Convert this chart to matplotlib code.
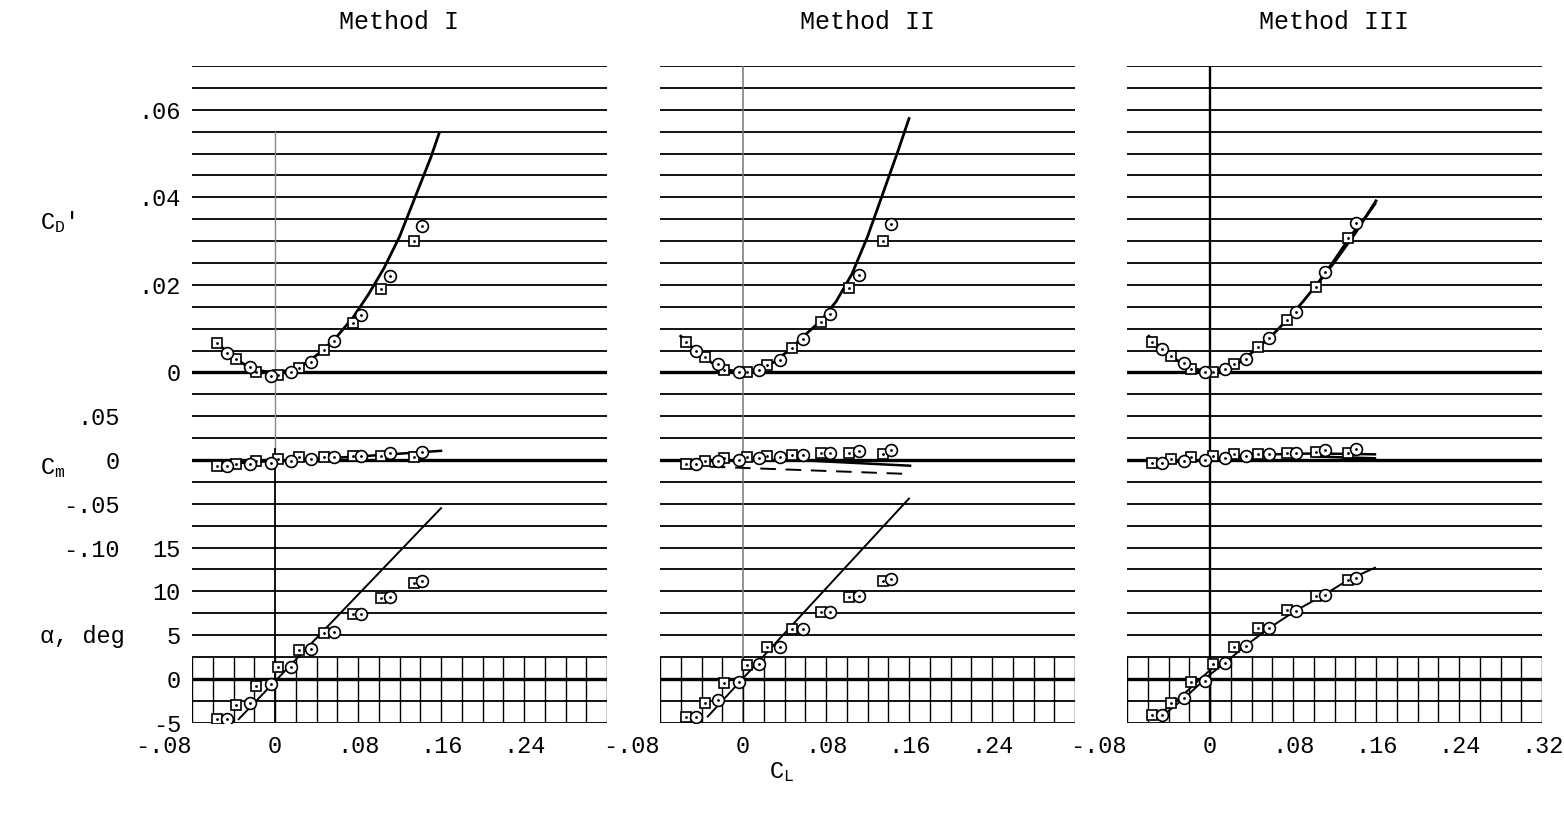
import numpy as np
import matplotlib.pyplot as plt

plt.rcParams['font.family'] = ['Liberation Mono', 'DejaVu Sans']
plt.rcParams['mathtext.fontset'] = 'custom'
plt.rcParams['mathtext.rm'] = 'Liberation Mono'
plt.rcParams['mathtext.it'] = 'Liberation Mono'

# ---- data ----
methods = ['Method I', 'Method II', 'Method III']
cl_ticks = [-0.08, 0, 0.08, 0.16, 0.24, 0.32]
cl_tick_labels = ['-.08', '0', '.08', '.16', '.24', '.32']
cd_ticks = [0, 0.02, 0.04, 0.06]
cd_tick_labels = ['0', '.02', '.04', '.06']
cm_ticks = [0.05, 0, -0.05, -0.10]
cm_tick_labels = ['.05', '0', '-.05', '-.10']
a_ticks = [15, 10, 5, 0, -5]
a_tick_labels = ['15', '10', '5', '0', '-5']

# Method I
m1_sq_cl = [-0.056, -0.038, -0.018, 0.003, 0.023, 0.047, 0.075, 0.102, 0.134]
m1_sq_cd = [0.0067, 0.0030, 0.0001, -0.0005, 0.0011, 0.0051, 0.0114, 0.0191, 0.0301]
m1_sq_cm = [-0.0065, -0.004, -0.001, 0.001, 0.003, 0.004, 0.005, 0.005, 0.004]
m1_sq_a = [-4.6, -3.0, -0.8, 1.4, 3.3, 5.3, 7.4, 9.2, 11.0]
m1_ci_cl = [-0.046, -0.024, -0.004, 0.015, 0.035, 0.057, 0.083, 0.111, 0.142]
m1_ci_cd = [0.0045, 0.0013, -0.0007, 0.0, 0.0025, 0.0072, 0.0131, 0.022, 0.0335]
m1_ci_cm = [-0.007, -0.005, -0.003, -0.001, 0.001, 0.003, 0.005, 0.0076, 0.0095]
m1_ci_a = [-4.6, -2.7, -0.6, 1.4, 3.4, 5.4, 7.4, 9.3, 11.2]
m1_cd_fair_cl = [-0.056, -0.045, -0.03, -0.015, 0.0, 0.015, 0.03, 0.045, 0.06, 0.075,
                 0.09, 0.105, 0.12, 0.135, 0.15, 0.158]
m1_cd_fair = [0.0068, 0.0044, 0.0019, 0.0004, 0.0, 0.0005, 0.0022, 0.0048, 0.0083, 0.0125,
              0.0178, 0.0238, 0.031, 0.040, 0.049, 0.0545]
m1_cm_line_cl = [-0.056, 0.0, 0.08, 0.16]
m1_cm_line = [-0.005, -0.001, 0.004, 0.0105]
m1_a_line_cl = [-0.035, 0.16]
m1_a_line = [-4.6, 19.5]

# Method II
m2_sq_cl = [-0.055, -0.037, -0.018, 0.0035, 0.023, 0.0475, 0.0755, 0.1025, 0.135]
m2_sq_cd = [0.0069, 0.0036, 0.0006, 0.0, 0.0017, 0.0055, 0.0116, 0.0194, 0.0301]
m2_sq_cm = [-0.004, -0.001, 0.0026, 0.003, 0.0046, 0.0057, 0.0076, 0.0076, 0.0068]
m2_sq_a = [-4.3, -2.7, -0.5, 1.6, 3.6, 5.7, 7.6, 9.4, 11.2]
m2_ci_cl = [-0.0455, -0.024, -0.004, 0.015, 0.036, 0.058, 0.084, 0.112, 0.143]
m2_ci_cd = [0.005, 0.0019, 0.0, 0.0006, 0.0029, 0.0076, 0.0133, 0.0223, 0.0338]
m2_ci_cm = [-0.0046, -0.001, 0.0, 0.002, 0.003, 0.0057, 0.0076, 0.010, 0.0114]
m2_ci_a = [-4.3, -2.4, -0.3, 1.7, 3.7, 5.7, 7.6, 9.5, 11.4]
m2_cd_fair_cl = [-0.06, -0.045, -0.03, -0.015, 0.0, 0.015, 0.03, 0.045, 0.06, 0.075,
                 0.09, 0.105, 0.12, 0.135, 0.15, 0.16]
m2_cd_fair = [0.0083, 0.0048, 0.0022, 0.0006, 0.0, 0.0006, 0.0024, 0.0052, 0.0086, 0.0118,
              0.0163, 0.0225, 0.031, 0.041, 0.051, 0.058]
m2_cm_line_cl = [-0.06, 0.06, 0.161]
m2_cm_line = [0.0, -0.0005, -0.0065]
m2_cm_dash_cl = [-0.032, 0.161]
m2_cm_dash = [-0.0076, -0.016]
m2_a_line_cl = [-0.034, 0.16]
m2_a_line = [-4.3, 20.6]

# Method III
m3_sq_cl = [-0.0556, -0.038, -0.0186, 0.003, 0.023, 0.0466, 0.074, 0.102, 0.1333]
m3_sq_cd = [0.0070, 0.0038, 0.0008, 0.0002, 0.0019, 0.0058, 0.012, 0.0196, 0.0307]
m3_sq_cm = [-0.003, 0.001, 0.003, 0.0046, 0.0068, 0.0068, 0.0083, 0.0088, 0.0076]
m3_sq_a = [-4.1, -2.7, -0.3, 1.7, 3.7, 5.8, 7.9, 9.5, 11.3]
m3_ci_cl = [-0.0466, -0.025, -0.0048, 0.0145, 0.0344, 0.057, 0.0826, 0.111, 0.141]
m3_ci_cd = [0.0053, 0.0021, 0.0, 0.0008, 0.003, 0.0078, 0.0139, 0.0229, 0.0342]
m3_ci_cm = [-0.003, -0.001, 0.0, 0.002, 0.005, 0.0068, 0.0083, 0.0114, 0.0126]
m3_ci_a = [-4.1, -2.2, -0.2, 1.8, 3.8, 5.8, 7.8, 9.6, 11.5]
m3_cd_fair_cl = [-0.059, -0.045, -0.03, -0.015, 0.0, 0.015, 0.03, 0.045, 0.06, 0.075,
                 0.09, 0.105, 0.12, 0.135, 0.15, 0.159]
m3_cd_fair = [0.0083, 0.0050, 0.0025, 0.0008, 0.0002, 0.0008, 0.0025, 0.0054, 0.0085, 0.0122,
              0.0163, 0.0207, 0.0257, 0.031, 0.0355, 0.0385]
m3_cd_fair2_cl = [0.10, 0.12, 0.14, 0.16]
m3_cd_fair2 = [0.0192, 0.0252, 0.0318, 0.0392]
m3_cm_line_cl = [-0.058, -0.03, 0.0, 0.03, 0.06, 0.10, 0.159]
m3_cm_line = [-0.004, -0.002, 0.0005, 0.004, 0.0065, 0.0075, 0.0065]
m3_cm_line2_cl = [0.10, 0.159]
m3_cm_line2 = [0.004, 0.002]
m3_a_line_cl = [-0.0466, -0.0257, 0.0, 0.0145, 0.0344, 0.057, 0.0826, 0.110, 0.133, 0.159]
m3_a_line = [-4.3, -2.3, 0.5, 1.85, 3.8, 5.8, 7.8, 9.6, 11.3, 12.7]
m3_a_line2_cl = [-0.046, -0.025, 0.0, 0.015]
m3_a_line2 = [-3.8, -1.7, 1.0, 2.3]

panels = [
    dict(sq_cl=m1_sq_cl, sq_cd=m1_sq_cd, sq_cm=m1_sq_cm, sq_a=m1_sq_a,
         ci_cl=m1_ci_cl, ci_cd=m1_ci_cd, ci_cm=m1_ci_cm, ci_a=m1_ci_a,
         cd_lines=[(m1_cd_fair_cl, m1_cd_fair)],
         cm_lines=[(m1_cm_line_cl, m1_cm_line)], cm_dash=[],
         a_lines=[(m1_a_line_cl, m1_a_line)]),
    dict(sq_cl=m2_sq_cl, sq_cd=m2_sq_cd, sq_cm=m2_sq_cm, sq_a=m2_sq_a,
         ci_cl=m2_ci_cl, ci_cd=m2_ci_cd, ci_cm=m2_ci_cm, ci_a=m2_ci_a,
         cd_lines=[(m2_cd_fair_cl, m2_cd_fair)],
         cm_lines=[(m2_cm_line_cl, m2_cm_line)], cm_dash=[(m2_cm_dash_cl, m2_cm_dash)],
         a_lines=[(m2_a_line_cl, m2_a_line)]),
    dict(sq_cl=m3_sq_cl, sq_cd=m3_sq_cd, sq_cm=m3_sq_cm, sq_a=m3_sq_a,
         ci_cl=m3_ci_cl, ci_cd=m3_ci_cd, ci_cm=m3_ci_cm, ci_a=m3_ci_a,
         cd_lines=[(m3_cd_fair_cl, m3_cd_fair), (m3_cd_fair2_cl, m3_cd_fair2)],
         cm_lines=[(m3_cm_line_cl, m3_cm_line), (m3_cm_line2_cl, m3_cm_line2)], cm_dash=[],
         a_lines=[(m3_a_line_cl, m3_a_line), (m3_a_line2_cl, m3_a_line2)]),
]

W, H = 1564, 814
fig = plt.figure(figsize=(W / 100, H / 100), dpi=100)

lefts = [192, 660, 1127]
bottom = (H - 722.7) / H
height = 656.7 / H
width = 415 / W
fs = 17


def overlay(rect):
    ax = fig.add_axes(rect)
    ax.patch.set_visible(False)
    for s in ax.spines.values():
        s.set_visible(False)
    ax.set_xlim(-0.08, 0.32)
    ax.tick_params(length=0, labelsize=fs)
    return ax


def markers(ax, cl, y, marker, size):
    ax.plot(cl, y, ls='none', marker=marker, ms=size, mfc='white', mec='black', mew=1.2, zorder=5)
    ax.plot(cl, y, ls='none', marker='.', ms=2, color='black', zorder=6)


for i, (left, d) in enumerate(zip(lefts, panels)):
    rect = [left / W, bottom, width, height]
    ax_cd = overlay(rect)
    ax_cm = overlay(rect)
    ax_a = overlay(rect)
    ax_cd.set_ylim(-0.08, 0.07)
    ax_cm.set_ylim(-0.30, 0.45)
    ax_a.set_ylim(-5, 70)

    # horizontal rulings
    for k in range(31):
        ax_cd.axhline(-0.08 + 0.005 * k, color='black', lw=1.3, zorder=1)
    ax_cd.axhline(0, color='black', lw=2.4, zorder=2)
    ax_cm.axhline(0, color='black', lw=2.4, zorder=2)
    ax_a.axhline(0, color='black', lw=2.4, zorder=2)
    # vertical rulings in the lower strip
    ax_a.vlines(np.arange(-0.08, 0.321, 0.02), -5, 2.5, color='black', lw=1.0, zorder=1)

    # CL = 0 reference line
    if i == 0:
        ax_cd.axvline(0, ymin=12.5 / 30, ymax=27.0 / 30, color='#888888', lw=1.0)
        ax_cd.axvline(0, ymin=0, ymax=12.5 / 30, color='black', lw=1.3)
    elif i == 1:
        ax_cd.axvline(0, ymin=0, ymax=1, color='#777777', lw=1.1)
    else:
        ax_cd.axvline(0, ymin=0, ymax=1, color='black', lw=1.7)

    # faired curves
    for x, y in d['cd_lines']:
        ax_cd.plot(x, y, color='black', lw=2.0, zorder=4)
    for x, y in d['cm_lines']:
        ax_cm.plot(x, y, color='black', lw=1.8, zorder=4)
    for x, y in d['cm_dash']:
        ax_cm.plot(x, y, color='black', lw=1.4, ls=(0, (8, 5)), zorder=4)
    for x, y in d['a_lines']:
        ax_a.plot(x, y, color='black', lw=1.4, zorder=4)

    # test points
    markers(ax_cd, d['sq_cl'], d['sq_cd'], 's', 7.5)
    markers(ax_cd, d['ci_cl'], d['ci_cd'], 'o', 8.5)
    markers(ax_cm, d['sq_cl'], d['sq_cm'], 's', 7.5)
    markers(ax_cm, d['ci_cl'], d['ci_cm'], 'o', 8.5)
    markers(ax_a, d['sq_cl'], d['sq_a'], 's', 7.5)
    markers(ax_a, d['ci_cl'], d['ci_a'], 'o', 8.5)

    # ticks
    ax_cd.set_xticks([])
    ax_cm.set_xticks([])
    n = 6 if i == 2 else 5
    ax_a.set_xticks(cl_ticks[:n])
    ax_a.set_xticklabels(cl_tick_labels[:n])
    ax_a.tick_params(axis='x', pad=9)
    ax_a.get_xticklabels()[0].set_horizontalalignment('right')
    if i == 0:
        ax_cd.set_yticks(cd_ticks)
        ax_cd.set_yticklabels(cd_tick_labels)
        ax_cd.tick_params(axis='y', pad=8)
        ax_cm.set_yticks(cm_ticks)
        ax_cm.set_yticklabels(cm_tick_labels)
        ax_cm.tick_params(axis='y', pad=52)
        ax_a.set_yticks(a_ticks)
        ax_a.set_yticklabels(a_tick_labels)
        ax_a.tick_params(axis='y', pad=8)
    else:
        ax_cd.set_yticks([])
        ax_cm.set_yticks([])
        ax_a.set_yticks([])

    fig.text((left + 207) / W, 1 - 22 / H, methods[i], ha='center', va='center', fontsize=18)

fig.text(40 / W, 1 - 222 / H, "C$_\\mathrm{D}$'", ha='left', va='center', fontsize=fs)
fig.text(40 / W, 1 - 468 / H, "C$_\\mathrm{m}$", ha='left', va='center', fontsize=fs)
fig.text(40 / W, 1 - 636 / H, "α, deg", ha='left', va='center', fontsize=fs)
fig.text(782 / W, 1 - 772 / H, "C$_\\mathrm{L}$", ha='center', va='center', fontsize=fs)

fig.savefig('out.png', dpi=100, facecolor='white')
